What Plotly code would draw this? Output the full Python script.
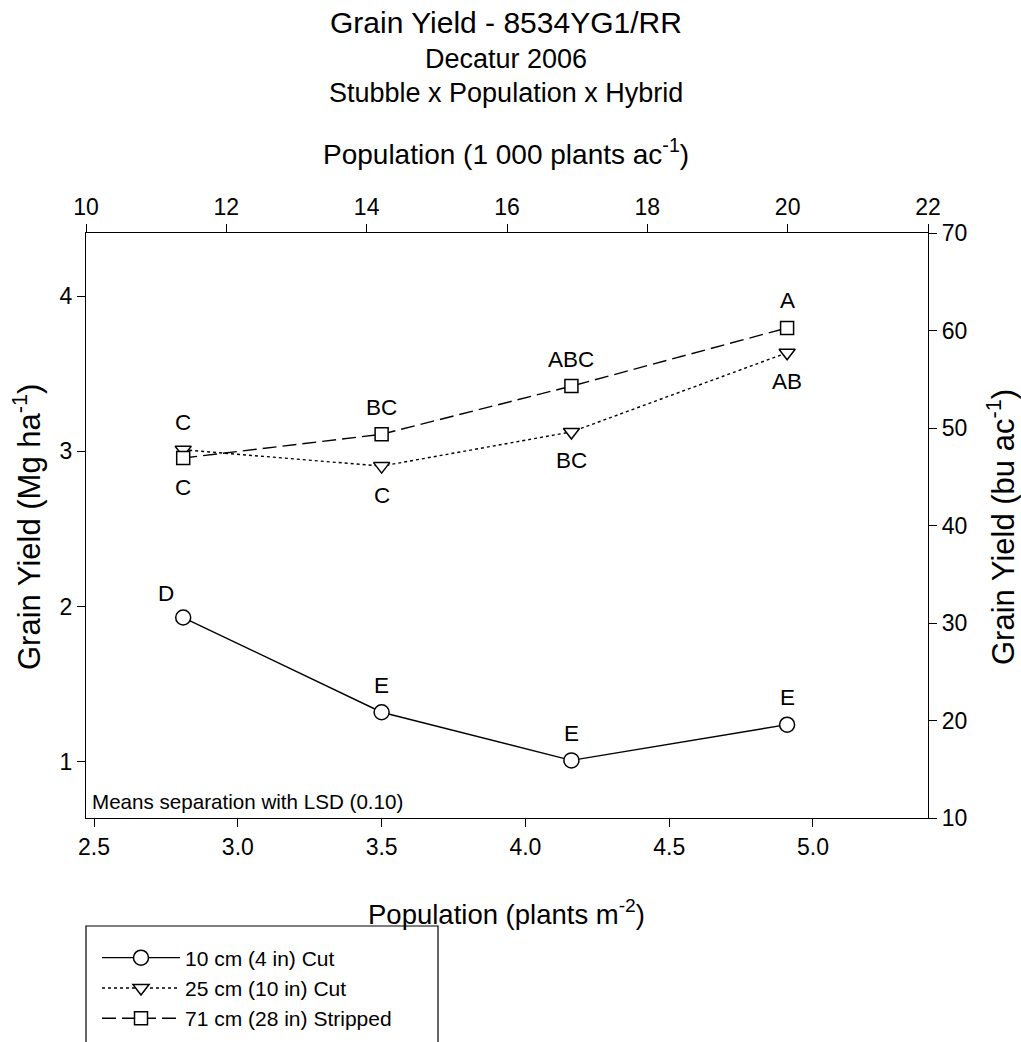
import plotly.graph_objects as go

# ---------------- Data ----------------
# x: population (plants m^-2), y: grain yield (Mg ha^-1)
population_m2 = [2.81, 3.50, 4.16, 4.91]
series_names = ["10 cm (4 in) Cut", "25 cm (10 in) Cut", "71 cm (28 in) Stripped"]
yield_10cm = [1.93, 1.32, 1.01, 1.24]
yield_25cm = [3.01, 2.905, 3.125, 3.635]
yield_71cm = [2.957, 3.11, 3.42, 3.795]
labels_10cm = ["D", "E", "E", "E"]
labels_25cm = ["C", "C", "BC", "AB"]
labels_71cm = ["C", "BC", "ABC", "A"]
# label placement: 'a' above, 'b' below, 'al' above-left
place_10cm = ["al", "a", "a", "a"]
place_25cm = ["a", "b", "b", "b"]
place_71cm = ["b", "a", "a", "a"]

x_ticks = [2.5, 3.0, 3.5, 4.0, 4.5, 5.0]
x_ticklabels = ["2.5", "3.0", "3.5", "4.0", "4.5", "5.0"]
top_ticks = [10, 12, 14, 16, 18, 20, 22]
y_ticks = [1, 2, 3, 4]
y2_ticks = [10, 20, 30, 40, 50, 60, 70]

# unit conversions for the secondary axes
PLANTS_M2_TO_K_AC = 4.04686
MG_HA_TO_BU_AC = 15.93

FONT = "Liberation Sans, Arial, sans-serif"

# figure / plot-area geometry (px)
W, H = 1021, 1042
PL, PR, PT, PB = 86, 928, 233, 818
PW, PH = PR - PL, PB - PT

fig = go.Figure()

styles = [
    dict(symbol="circle", size=15, dash="solid"),
    dict(symbol="triangle-down", size=14, dash="dot"),
    dict(symbol="square", size=13, dash="14px,6px"),
]
all_y = [yield_10cm, yield_25cm, yield_71cm]
all_lab = [labels_10cm, labels_25cm, labels_71cm]
all_place = [place_10cm, place_25cm, place_71cm]

for name, ys, st in zip(series_names, all_y, styles):
    fig.add_trace(go.Scatter(
        x=population_m2, y=ys, name=name, mode="lines+markers",
        line=dict(color="black", width=1.4, dash=st["dash"]),
        marker=dict(symbol=st["symbol"], size=st["size"], color="white",
                    line=dict(color="black", width=1.5)),
        xaxis="x", yaxis="y",
    ))

# transparent companion trace so the secondary (top / right) axes are drawn
fig.add_trace(go.Scatter(
    x=[v * PLANTS_M2_TO_K_AC for v in population_m2],
    y=[v * MG_HA_TO_BU_AC for v in yield_10cm],
    mode="markers", marker=dict(opacity=0), showlegend=False,
    hoverinfo="skip", xaxis="x2", yaxis="y2",
))

annotations = []
for ys, labs, places in zip(all_y, all_lab, all_place):
    for xv, yv, lab, pl in zip(population_m2, ys, labs, places):
        if pl == "a":
            xs, ysh = 0, 27
        elif pl == "b":
            xs, ysh = 0, -29
        else:
            xs, ysh = -17, 24
        annotations.append(dict(x=xv, y=yv, xref="x", yref="y", text=lab,
                                showarrow=False, xshift=xs, yshift=ysh,
                                font=dict(size=22.5, color="black", family=FONT)))

annotations.append(dict(x=(93 - PL) / PW, y=(PB - 801) / PH, xref="paper", yref="paper",
                        xanchor="left", yanchor="middle", showarrow=False, xshift=-3,
                        text="Means separation with LSD (0.10)",
                        font=dict(size=20.6, color="black", family=FONT)))

# Titles (chart + axes)
def ann(xpx, ypx, text, size, angle=0):
    return dict(x=(xpx - PL) / PW, y=(PB - ypx) / PH, xref="paper", yref="paper",
                showarrow=False, xanchor="center", yanchor="middle", textangle=angle,
                text=text, font=dict(size=size, color="black", family=FONT))

annotations += [
    ann(506, 23, "Grain Yield - 8534YG1/RR", 30),
    ann(506, 59, "Decatur 2006", 27),
    ann(506, 93, "Stubble x Population x Hybrid", 27),
    ann(506, 152, "Population (1 000 plants ac<sup>-1</sup>)", 28),
    ann(506, 912, "Population (plants m<sup>-2</sup>)", 27.5),
    ann(27, 527, "Grain Yield (Mg ha<sup>-1</sup>)", 31, -90),
    ann(1001, 527, "Grain Yield (bu ac<sup>-1</sup>)", 31, -90),
]

# legend frame (open at the bottom edge of the picture, as in the original)
shapes = [dict(type="rect", xref="paper", yref="paper",
               x0=0, x1=(438 - PL) / PW, y0=(PB - 926) / PH, y1=(PB - 1070) / PH,
               line=dict(color="black", width=1.2), fillcolor="rgba(0,0,0,0)")]

axis_common = dict(showline=True, linecolor="black", linewidth=1.4, ticks="outside",
                   ticklen=8, tickwidth=1.4, tickcolor="black", showgrid=False,
                   zeroline=False, tickfont=dict(size=23, color="black", family=FONT))

fig.update_layout(
    width=W, height=H,
    margin=dict(l=PL, r=W - PR, t=PT, b=H - PB),
    paper_bgcolor="white", plot_bgcolor="white",
    font=dict(family=FONT, color="black"),
    annotations=annotations,
    shapes=shapes,
    xaxis=dict(range=[2.472, 5.40], tickvals=x_ticks, ticktext=x_ticklabels,
               anchor="y", **axis_common),
    xaxis2=dict(range=[10, 22], tickvals=top_ticks, overlaying="x", side="top",
                anchor="y", **axis_common),
    yaxis=dict(range=[0.639, 4.406], tickvals=y_ticks, anchor="x", **axis_common),
    yaxis2=dict(range=[10, 70], tickvals=y2_ticks, overlaying="y", side="right",
                anchor="x", **axis_common),
    legend=dict(xref="paper", yref="container",
                x=(97 - PL) / PW, y=1 - 937.5 / H, xanchor="left", yanchor="top",
                borderwidth=0, bgcolor="rgba(0,0,0,0)",
                font=dict(size=21, color="black", family=FONT),
                tracegroupgap=0, itemsizing="trace", itemwidth=78),
    showlegend=True,
)

fig.write_html(
    "out.html",
    config={"displayModeBar": False},
    post_script="document.body.style.margin='0';document.body.style.overflow='hidden';",
)
